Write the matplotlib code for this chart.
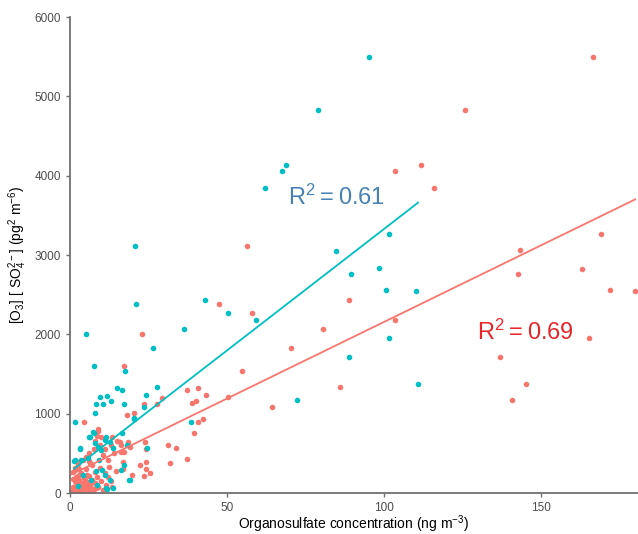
import numpy as np
import matplotlib
matplotlib.use("Agg")
import matplotlib.pyplot as plt

plt.rcParams['font.family'] = ['Liberation Sans', 'DejaVu Sans']
plt.rcParams['mathtext.default'] = 'regular'

# red group (x = organosulfate ng m-3, y = [O3][SO4] pg2 m-6)
red_x = [166.7, 126, 103.7, 111.7, 115.9, 143.3, 169.1, 163.3, 142.8, 172.2, 180.1, 89, 80.7, 103.7,
         165.4, 136.9, 85.9, 145.2, 141, 56.3,
         47.6, 58, 23.1, 70.5, 17.3, 54.9, 37.2, 40.9, 29.3, 43.2, 50.3, 39, 40, 23.5, 64.4, 27.7,
         18.2, 20.4, 4.5, 40.9, 42.3, 39.5, 9, 31.1, 33.8, 32, 37.2, 23.9, 24.3, 22.4, 24.3, 25.5,
         23.5, 24.3, 18.4, 15.8, 17.3, 19.9, 13.5, 2, 16.4, 16.4, 17, 17, 19,
         0.5, 1, 1.5, 2, 2, 2.5, 3, 3, 3.5, 3.5, 4, 4, 4.5, 5, 5, 5.5, 6, 6, 6.5, 7, 7, 7.5, 8, 8,
         8.5, 9, 9.5, 10, 10.5, 11, 1, 1.5, 2.5, 3, 4, 5, 6, 6.5, 7.5, 8, 8.5, 9, 9.5, 10, 10.5,
         11, 12, 12.5, 13, 13.5, 14, 14.5, 15, 12, 11.5, 13, 2, 0.8, 5.5, 6,
         1.2, 2.2, 3.2, 4.2, 5.2, 6.2, 7.2, 8.2, 2.8, 4.8, 6.8, 3.8]
red_y = [5494, 4826, 4060, 4132, 3842, 3060, 3262, 2818, 2766, 2556, 2543, 2438, 2073, 2182,
         1950, 1719, 1333, 1371, 1177, 3115,
         2388, 2263, 1999, 1831, 1601, 1538, 1299, 1324, 1203, 1236, 1215, 1131, 1165, 1127, 1081, 1127,
         985, 1006, 897, 892, 934, 754, 813, 608, 561, 377, 432, 649, 553, 356, 302, 251,
         218, 385, 637, 637, 520, 230, 71, 402, 600, 520, 390, 300, 586,
         30, 80, 150, 40, 200, 100, 20, 160, 60, 250, 120, 10, 190, 70, 300, 140, 30, 220, 90, 170,
         350, 50, 260, 120, 200, 80, 310, 150, 40, 250, 260, 320, 370, 300, 420, 450, 500, 380, 560,
         650, 720, 780, 600, 700, 480, 550, 420, 330, 600, 700, 500, 280, 650, 200, 100, 150, 120,
         180, 230, 400,
         20, 60, 110, 50, 15, 110, 25, 60, 230, 160, 130, 90]

# cyan group
cyan_x = [95.3, 78.9, 101.7, 84.7, 98.4, 20.7, 62.1, 67.6, 68.8, 89.4, 100.6, 110.1, 101.7, 89,
          110.9, 72.3,
          20.9, 43, 50.5, 59.4, 36.2, 5.1, 26.4, 7.5, 17.5, 14.9, 16.7, 27.7, 24.3, 9.7, 11.8, 13.1,
          8.4, 10.5, 17.2, 23.7, 7.9, 20.5, 38.6, 1.7, 3.2, 7.5, 6.3, 16.7, 24.6, 18.2, 11.6, 18.8,
          11.8, 1.4, 16.4, 17.1, 20.3, 19,
          7.3, 6, 3.3, 7.9, 8.9, 5.7, 3.6, 1.5, 9.2, 10.3, 8.2, 11, 6.8, 8.6, 11.6, 13.7, 12.6, 10,
          11.1, 12.6, 13.7, 2.5, 4.1]
cyan_y = [5494, 4826, 3262, 3055, 2833, 3115, 3842, 4060, 4132, 2766, 2556, 2543, 1950, 1719,
          1371, 1173,
          2388, 2434, 2263, 2179, 2070, 1999, 1831, 1601, 1538, 1324, 1295, 1332, 1236, 1215, 1228, 1165,
          1127, 1127, 1127, 1081, 1006, 939, 897, 897, 561, 754, 712, 754, 566, 608, 712, 159,
          50, 402, 293, 356, 944, 167,
          775, 705, 553, 629, 579, 440, 419, 419, 419, 293, 272, 230, 167, 104, 63, 63, 167, 536,
          671, 637, 566, 83, 230]

# linear fits (slope, intercept)
red_fit = (19.3, 225)
cyan_fit = (30.6, 266)

red_col = '#F8766D'
cyan_col = '#00BFC4'

fig = plt.figure(figsize=(6.38, 5.34), dpi=100)
ax = fig.add_axes([70 / 638, 41 / 534, 568 / 638, 476 / 534])

ax.scatter(red_x, red_y, s=16, color=red_col, linewidths=0, zorder=2)
ax.scatter(cyan_x, cyan_y, s=16, color=cyan_col, linewidths=0, zorder=2)

xr = np.array([min(red_x), max(red_x)])
ax.plot(xr, red_fit[0] * xr + red_fit[1], color=red_col, lw=1.3, zorder=3)
xc = np.array([min(cyan_x), max(cyan_x)])
ax.plot(xc, cyan_fit[0] * xc + cyan_fit[1], color=cyan_col, lw=1.3, zorder=3)

ax.text(85, 3724, r'R$^2$$=$0.61', color='#4682B4', fontsize=17, ha='center', va='center')
ax.text(145, 2025, r'R$^2$$=$0.69', color='#E5262B', fontsize=17, ha='center', va='center')

ax.set_xlim(0, 181)
ax.set_ylim(0, 6000)
ax.set_xticks([0, 50, 100, 150])
ax.set_yticks([0, 1000, 2000, 3000, 4000, 5000, 6000])

for s in ['top', 'right']:
    ax.spines[s].set_visible(False)
for s in ['left', 'bottom']:
    ax.spines[s].set_color('#707070')
    ax.spines[s].set_linewidth(1.3)
ax.tick_params(colors='#707070', labelcolor='#4D4D4D', labelsize=8.5, length=3, width=1)

xl = ax.set_xlabel('Organosulfate concentration (ng m$^{-3}$)', fontsize=10)
xl.set_va('center')
ax.xaxis.set_label_coords(0.5, -0.066)
ax.set_ylabel('[O$_3$] [ SO$_4^{2-}$] (pg$^2$ m$^{-6}$)', fontsize=10, labelpad=4)

fig.savefig('out.png', dpi=100)
